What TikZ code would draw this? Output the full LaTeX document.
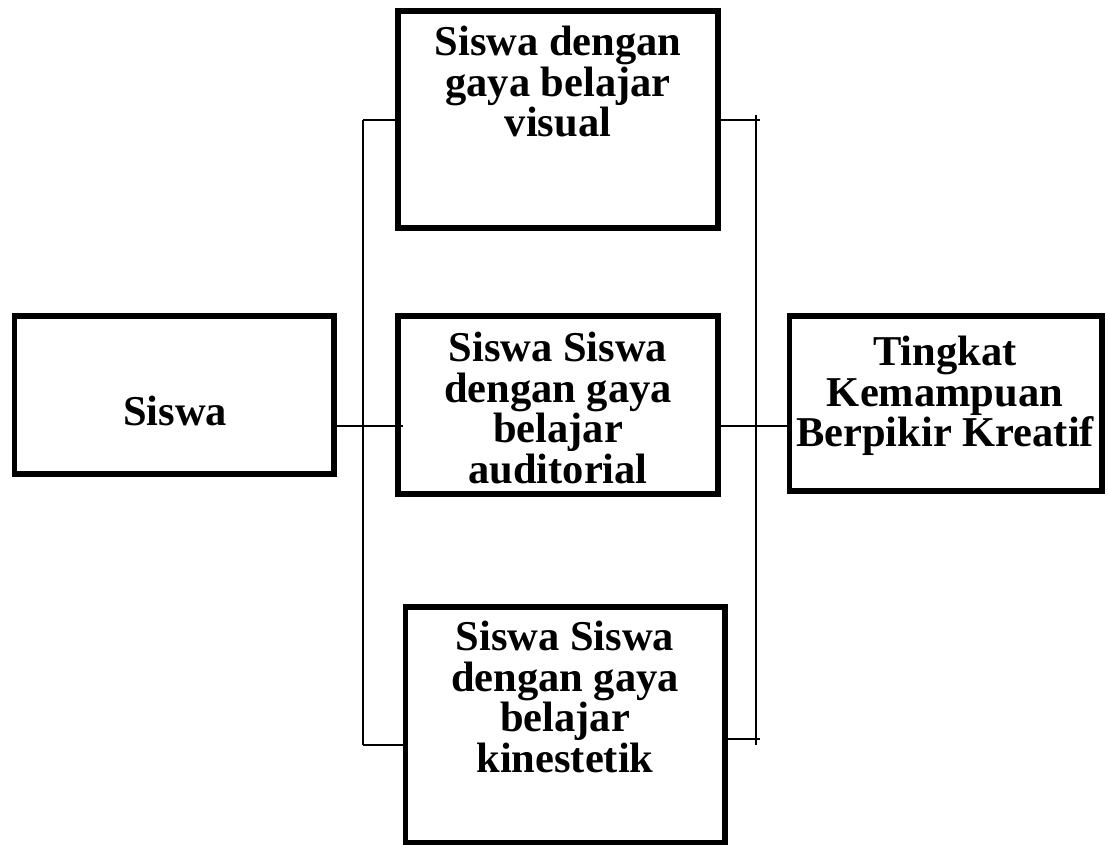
\documentclass[tikz,border=0pt]{standalone}
\usepackage{fontspec}
\setmainfont{Liberation Serif}
\usepackage{tikz}
\usetikzlibrary{positioning, calc}

\begin{document}
\begin{tikzpicture}[x=1pt, y=-1pt,
    box/.style={draw, line width=5.5pt, inner sep=0pt, rectangle},
    boxtext/.style={font=\fontsize{42.5}{40.5}\selectfont\bfseries, align=center, inner sep=0pt},
    link/.style={line width=1.8pt}]
\useasboundingbox (0,0) rectangle (1108,845);

% Boxes
\node[box, minimum width=319.5pt, minimum height=158pt] (siswa) at (174.25,395) {};
\node[box, minimum width=320pt, minimum height=217pt] (visual) at (558,119.5) {};
\node[box, minimum width=320pt, minimum height=178pt] (audit) at (558,405) {};
\node[box, minimum width=319.5pt, minimum height=236pt] (kines) at (565.25,725) {};
\node[box, minimum width=312.5pt, minimum height=175pt] (tingkat) at (945.75,403.5) {};

% Labels
\node[boxtext] (siswatxt) at (175,411) {Siswa};
\node[boxtext] (visualtxt) at (558,82) {Siswa dengan\\gaya belajar\\visual};
\node[boxtext] (audittxt) at (558,408) {Siswa Siswa\\dengan gaya\\belajar\\auditorial};
\node[boxtext] (kinestxt) at (565,697) {Siswa Siswa\\dengan gaya\\belajar\\kinestetik};
\node[boxtext] (tingkattxt) at (945,396) {Tingkat\\Kemampuan\\Berpikir Kreatif};

% Left bus
\coordinate (ltop) at (363,120);
\coordinate (lbot) at (363,745);
\draw[link] (ltop) -- (lbot);
\draw[link] (ltop) -- (ltop -| visual.west);
\draw[link] (siswa.east |- 0,426) -- (403,426);
\draw[link] (lbot) -- (lbot -| kines.west);

% Right bus
\coordinate (rtop) at (756,115);
\coordinate (rbot) at (756,745);
\draw[link] (rtop) -- (rbot);
\draw[link] (visual.east |- 0,120) -- (760,120);
\draw[link] (audit.east |- 0,426) -- (tingkat.west |- 0,426);
\draw[link] (kines.east |- 0,739) -- (760,739);
\end{tikzpicture}
\end{document}
